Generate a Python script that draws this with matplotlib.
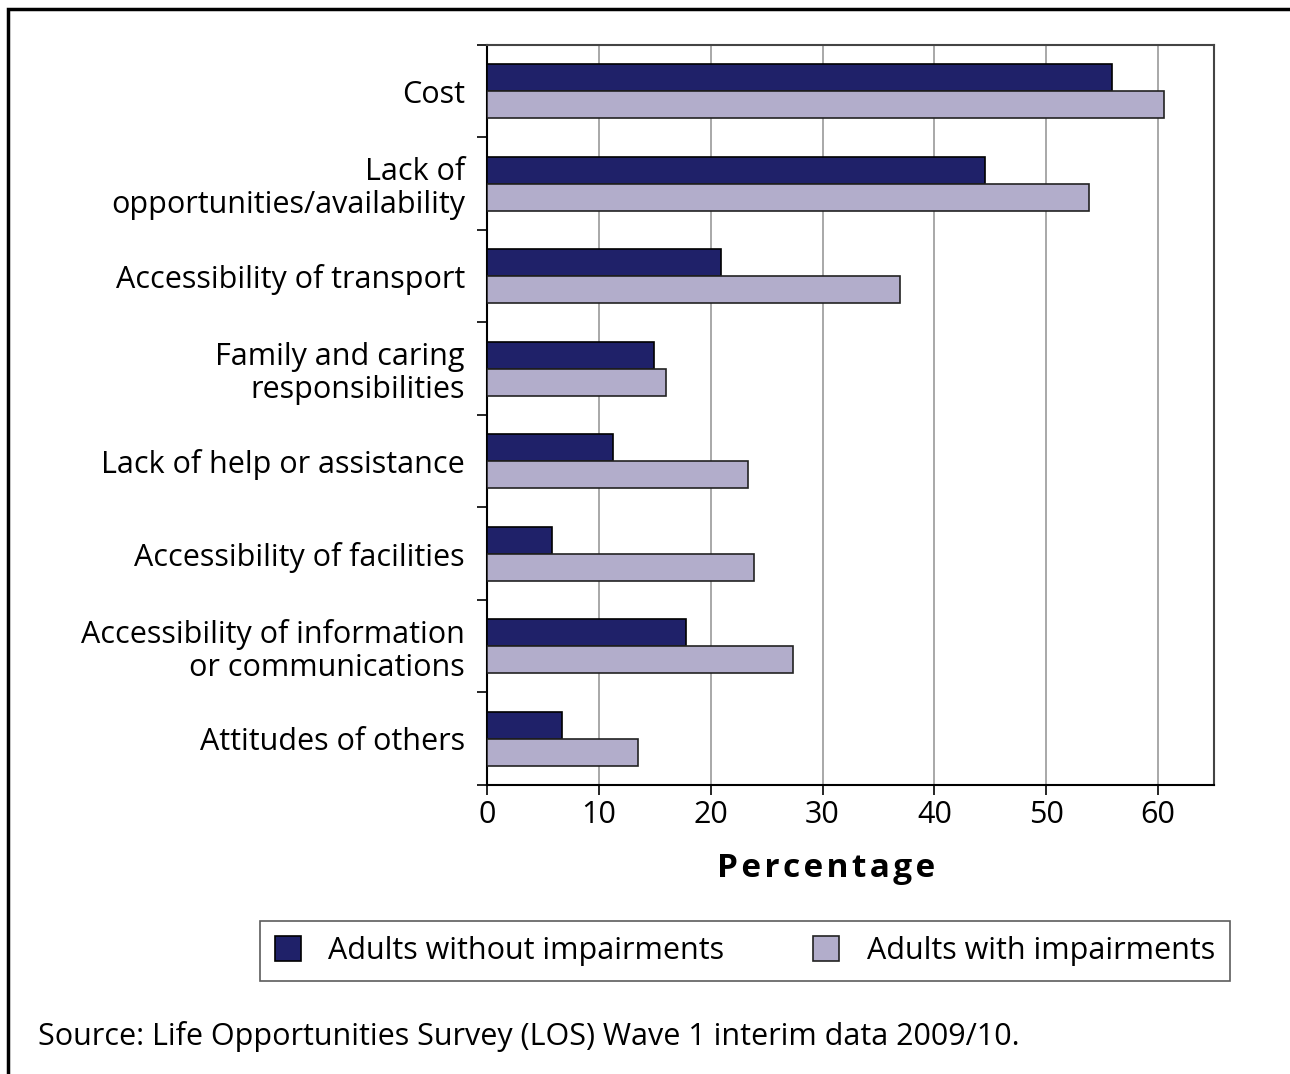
import numpy as np
import matplotlib
matplotlib.use("Agg")
import matplotlib.pyplot as plt
from matplotlib.patches import Rectangle

plt.rcParams['font.family'] = ['Open Sans', 'DejaVu Sans']

categories = ["Cost", "Lack of\nopportunities/availability", "Accessibility of transport",
              "Family and caring\nresponsibilities", "Lack of help or assistance",
              "Accessibility of facilities", "Accessibility of information\nor communications",
              "Attitudes of others"]
without_imp = [55.9, 44.5, 20.9, 14.9, 11.3, 5.8, 17.8, 6.7]
with_imp = [60.5, 53.8, 36.9, 16.0, 23.3, 23.9, 27.4, 13.5]
series_names = ["Adults without impairments", "Adults with impairments"]
dark = "#1f2169"
light = "#b2adcb"

fig = plt.figure(figsize=(12.9, 10.74), dpi=100)
ax = fig.add_axes([0.3775, 0.2691, 0.5636, 0.6890])

y = np.arange(len(categories))
h = 0.29
b1 = ax.barh(y - h / 2, without_imp, height=h, color=dark, edgecolor="black", linewidth=1.2,
             label=series_names[0], zorder=3)
b2 = ax.barh(y + h / 2, with_imp, height=h, color=light, edgecolor="#222222", linewidth=1.2,
             label=series_names[1], zorder=3)

ax.set_xlim(0, 65)
ax.set_ylim(len(categories) - 0.5, -0.5)
ax.set_xticks(range(0, 61, 10))
ax.tick_params(axis="x", labelsize=22, length=7, width=1.2, pad=4)
ax.set_yticks(y)
ax.set_yticklabels(categories, fontsize=22, linespacing=1.1)
ax.tick_params(axis="y", length=0, pad=16)
ax.set_yticks(np.arange(-0.5, len(categories), 1), minor=True)
ax.tick_params(axis="y", which="minor", length=7, width=1.2)
ax.grid(axis="x", color="#999999", linewidth=1.2, zorder=0)
ax.set_axisbelow(True)
for s in ["left", "bottom"]:
    ax.spines[s].set_linewidth(1.5)
    ax.spines[s].set_color("black")
for s in ["top", "right"]:
    ax.spines[s].set_linewidth(1.5)
    ax.spines[s].set_color("#444444")

fig.text(0.640, 0.191, "\u200a".join("Percentage"), fontsize=24,
         fontweight="bold", ha="center", va="center")

leg = fig.legend(handles=[b1, b2], loc="center", bbox_to_anchor=(0.5775, 0.1145), ncol=2,
                 fontsize=22, frameon=True, fancybox=False, edgecolor="#333333",
                 handlelength=0.85, handleheight=0.85, columnspacing=2.9, borderpad=0.5,
                 handletextpad=0.9)
leg.get_frame().set_linewidth(1.2)

fig.text(0.0295, 0.035, "Source: Life Opportunities Survey (LOS) Wave 1 interim data 2009/10.",
         fontsize=22, ha="left", va="center")

# outer frame (cropped at right and bottom)
fig.add_artist(Rectangle((8 / 1290, -0.1), 1.2, 1.1 - 9 / 1074, transform=fig.transFigure,
                         fill=False, edgecolor="black", linewidth=2.5))

fig.savefig("out.png", dpi=100)
